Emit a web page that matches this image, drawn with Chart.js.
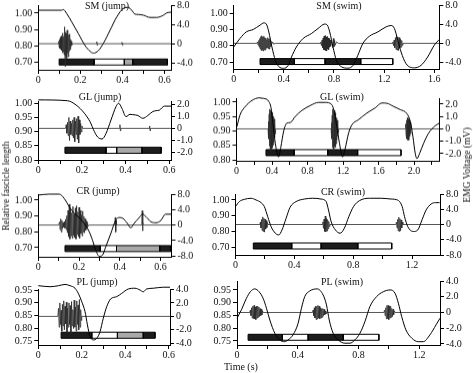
<!DOCTYPE html>
<html>
<head>
<meta charset="utf-8">
<script src="https://cdn.jsdelivr.net/npm/chart.js@4.4.1/dist/chart.umd.min.js"></script>
<style>
  body { margin: 0; background: #fff; width: 473px; height: 373px; position: relative; overflow: hidden;
         font-family: "Liberation Serif", "Times New Roman", serif; color: #111; }
  canvas { position: absolute; }
  .lbl { position: absolute; font-size: 10px; white-space: nowrap; transform: translate(-50%, -50%); }
  .rot { transform: translate(-50%, -50%) rotate(-90deg); font-size: 9.5px; }
</style>
</head>
<body>
<canvas id="c1"></canvas><canvas id="c2"></canvas>
<canvas id="c3"></canvas><canvas id="c4"></canvas>
<canvas id="c5"></canvas><canvas id="c6"></canvas>
<canvas id="c7"></canvas><canvas id="c8"></canvas>

<div class="lbl" style="left:107px;top:5px">SM (jump)</div>
<div class="lbl" style="left:339px;top:5px">SM (swim)</div>
<div class="lbl" style="left:100px;top:96px">GL (jump)</div>
<div class="lbl" style="left:342px;top:96px">GL (swim)</div>
<div class="lbl" style="left:98px;top:190px">CR (jump)</div>
<div class="lbl" style="left:343px;top:191px">CR (swim)</div>
<div class="lbl" style="left:97px;top:281px">PL (jump)</div>
<div class="lbl" style="left:342px;top:281px">PL (swim)</div>
<div class="lbl" style="left:241px;top:366px">Time (s)</div>
<div class="lbl rot" style="left:6px;top:186px">Relative fascicle length</div>
<div class="lbl rot" style="left:467px;top:165px">EMG Voltage (mV)</div>

<script>
// ---- tick values / labels ----
const yT_row1 = [1.0, 0.9, 0.8, 0.7];           const yL_row1 = ['1.00', '0.90', '0.80', '0.70'];
const eT_row1 = [8, 4, 0, -4];                  const eL_row1 = ['8.0', '4.0', '0', '-4.0'];
const yT_row2 = [1.0, 0.95, 0.9, 0.85, 0.8];    const yL_row2 = ['1.00', '0.95', '0.90', '0.85', '0.80'];
const eT_row2 = [2, 1, 0, -1, -2];              const eL_row2 = ['2.0', '1.0', '0', '-1.0', '-2.0'];
const yT_row3 = [1.0, 0.9, 0.8, 0.7];           const yL_row3 = ['1.00', '0.90', '0.80', '0.70'];
const eT_row3 = [8, 4, 0, -4, -8];              const eL_row3 = ['8.0', '4.0', '0', '-4.0', '-8.0'];
const yT_row4 = [0.95, 0.9, 0.85, 0.8, 0.75];   const yL_row4 = ['0.95', '0.90', '0.85', '0.80', '0.75'];
const eT_row4 = [4, 2, 0, -2, -4];              const eL_row4 = ['4.0', '2.0', '0', '-2.0', '-4.0'];

const xT_jump = [0, 0.1, 0.2, 0.3, 0.4, 0.5, 0.6];
const xL_jump = ['0', '', '0.2', '', '0.4', '', '0.6'];
const xT_smSwim = [0, 0.2, 0.4, 0.6, 0.8, 1.0, 1.2, 1.4, 1.6];
const xL_smSwim = ['0', '', '0.4', '', '0.8', '', '1.2', '', '1.6'];
const xT_glSwim = [0, 0.2, 0.4, 0.6, 0.8, 1.0, 1.2, 1.4, 1.6, 1.8, 2.0, 2.2];
const xL_glSwim = ['0', '', '0.4', '', '0.8', '', '1.2', '', '1.6', '', '2.0', ''];
const xT_short = [0, 0.2, 0.4, 0.6, 0.8, 1.0, 1.2];
const xL_short = ['0', '', '0.4', '', '0.8', '', '1.2'];

// ---- fascicle length [time s, relative length] ----
const smJumpLen = [[0,1.018],[0.111,1.018],[0.119,1.022],[0.135,0.998],[0.159,0.947],[0.191,0.875],[0.222,0.804],[0.246,0.769],[0.262,0.757],[0.286,0.773],[0.31,0.818],[0.341,0.896],[0.373,0.977],[0.405,1.029],[0.428,1.035],[0.444,1.018],[0.46,0.994],[0.476,0.992],[0.5,0.988],[0.531,0.974],[0.563,0.974],[0.595,0.988],[0.611,1.002],[0.631,1.006]];
const smSwimLen = [[0,0.793],[0.05,0.845],[0.1,0.885],[0.156,0.9],[0.21,0.926],[0.24,0.94],[0.26,0.933],[0.28,0.885],[0.305,0.793],[0.332,0.712],[0.358,0.675],[0.398,0.663],[0.435,0.681],[0.461,0.732],[0.5,0.793],[0.554,0.845],[0.62,0.875],[0.673,0.906],[0.726,0.933],[0.747,0.926],[0.766,0.885],[0.792,0.793],[0.819,0.712],[0.858,0.673],[0.912,0.664],[0.952,0.681],[0.99,0.742],[1.03,0.814],[1.083,0.859],[1.15,0.885],[1.216,0.916],[1.256,0.924],[1.282,0.906],[1.309,0.834],[1.335,0.763],[1.375,0.691],[1.441,0.666],[1.494,0.681],[1.547,0.732],[1.6,0.804],[1.64,0.839]];
const glJumpLen = [[0,1.012],[0.134,1.009],[0.173,0.994],[0.211,0.965],[0.237,0.935],[0.257,0.9],[0.272,0.881],[0.292,0.874],[0.31,0.893],[0.333,0.941],[0.356,0.988],[0.368,1.0],[0.383,0.982],[0.402,0.953],[0.42,0.961],[0.433,0.96],[0.456,0.957],[0.479,0.947],[0.502,0.957],[0.525,0.971],[0.54,0.974],[0.555,0.976],[0.578,0.99],[0.608,0.99]];
const glSwimLen = [[0.005,0.915],[0.04,0.956],[0.1,0.985],[0.175,1.006],[0.25,1.015],[0.306,1.013],[0.362,1.003],[0.389,0.98],[0.41,0.927],[0.437,0.857],[0.474,0.81],[0.5,0.845],[0.53,0.898],[0.567,0.927],[0.605,0.929],[0.661,0.95],[0.736,0.971],[0.83,0.988],[0.924,0.999],[0.999,0.999],[1.074,0.991],[1.104,0.962],[1.13,0.915],[1.16,0.857],[1.194,0.81],[1.224,0.839],[1.262,0.892],[1.299,0.921],[1.374,0.939],[1.468,0.962],[1.562,0.98],[1.637,0.997],[1.694,0.996],[1.769,0.985],[1.844,0.974],[1.919,0.96],[1.957,0.933],[1.987,0.88],[2.013,0.822],[2.032,0.804],[2.062,0.822],[2.107,0.857],[2.163,0.892],[2.238,0.918],[2.284,0.927]];
const crJumpLen = [[0,1.032],[0.054,1.038],[0.103,1.038],[0.127,1.011],[0.152,0.958],[0.176,0.916],[0.2,0.89],[0.225,0.852],[0.25,0.8],[0.266,0.747],[0.282,0.684],[0.299,0.645],[0.315,0.652],[0.331,0.704],[0.356,0.789],[0.38,0.873],[0.397,0.89],[0.416,0.884],[0.438,0.852],[0.454,0.825],[0.47,0.852],[0.492,0.884],[0.512,0.911],[0.529,0.895],[0.553,0.863],[0.578,0.857],[0.603,0.873],[0.624,0.911],[0.652,0.911]];
const crSwimLen = [[0,0.958],[0.026,0.99],[0.06,1.004],[0.106,1.011],[0.14,1.0],[0.174,0.983],[0.196,0.958],[0.219,0.894],[0.242,0.831],[0.271,0.789],[0.294,0.778],[0.316,0.81],[0.344,0.884],[0.371,0.954],[0.412,0.99],[0.468,1.006],[0.525,1.011],[0.582,1.006],[0.616,0.99],[0.632,0.937],[0.65,0.863],[0.679,0.81],[0.711,0.789],[0.74,0.821],[0.77,0.894],[0.802,0.958],[0.843,0.996],[0.911,1.011],[0.99,1.011],[1.058,1.006],[1.103,0.999],[1.133,0.958],[1.149,0.894],[1.171,0.831],[1.21,0.8],[1.239,0.81],[1.269,0.877],[1.296,0.937],[1.33,0.975],[1.36,0.983],[1.387,0.983]];
const plJumpLen = [[0,0.967],[0.054,0.963],[0.093,0.967],[0.123,0.972],[0.146,0.967],[0.169,0.957],[0.184,0.937],[0.2,0.904],[0.215,0.865],[0.226,0.813],[0.238,0.767],[0.256,0.754],[0.269,0.76],[0.284,0.786],[0.299,0.839],[0.315,0.885],[0.333,0.915],[0.361,0.924],[0.384,0.937],[0.414,0.954],[0.445,0.957],[0.468,0.95],[0.483,0.943],[0.498,0.954],[0.529,0.957],[0.575,0.961],[0.606,0.961]];
const plSwimLen = [[0,0.839],[0.029,0.872],[0.062,0.917],[0.088,0.943],[0.117,0.954],[0.145,0.943],[0.172,0.917],[0.194,0.878],[0.216,0.832],[0.249,0.78],[0.281,0.754],[0.314,0.747],[0.336,0.754],[0.369,0.774],[0.402,0.819],[0.424,0.878],[0.446,0.924],[0.479,0.946],[0.528,0.954],[0.567,0.93],[0.589,0.891],[0.607,0.832],[0.633,0.78],[0.666,0.754],[0.71,0.741],[0.743,0.741],[0.776,0.754],[0.809,0.78],[0.842,0.826],[0.875,0.885],[0.919,0.924],[0.963,0.943],[1.007,0.95],[1.04,0.937],[1.062,0.898],[1.084,0.845],[1.112,0.793],[1.15,0.761],[1.193,0.747],[1.226,0.747],[1.27,0.774],[1.31,0.813],[1.336,0.839]];

// ---- EMG traces [time s, mV] ----
const smJumpEmg = [[0,0],[0.094,0],[0.097,0.5],[0.099,-0.6],[0.101,0.9],[0.103,-1.0],[0.105,1.3],[0.107,-1.1],[0.109,1.6],[0.111,-1.4],[0.113,1.2],[0.115,-1.9],[0.117,2.2],[0.119,-1.7],[0.121,1.5],[0.123,-2.3],[0.125,3.5],[0.127,-4.7],[0.129,2.4],[0.131,-2.6],[0.133,2.1],[0.135,-3.0],[0.137,2.8],[0.139,-2.0],[0.141,2.5],[0.143,-2.7],[0.145,1.8],[0.147,-1.5],[0.149,2.0],[0.151,-1.2],[0.153,0.9],[0.155,-0.7],[0.157,0.5],[0.159,-0.3],[0.161,0],[0.276,0],[0.278,0.4],[0.28,-0.3],[0.282,0],[0.396,0],[0.398,0.3],[0.4,-0.3],[0.402,0],[0.631,0]];
const smSwimEmg = [[0,0],[0.185,0],[0.19,0.3],[0.195,-0.4],[0.2,0.6],[0.204,-0.8],[0.208,1.0],[0.212,-1.2],[0.216,1.4],[0.22,-1.5],[0.224,1.6],[0.228,-1.4],[0.232,1.3],[0.236,-1.6],[0.24,1.5],[0.244,-1.3],[0.248,1.2],[0.252,-1.4],[0.256,1.1],[0.26,-1.0],[0.264,0.8],[0.268,-0.9],[0.272,1.2],[0.276,-1.1],[0.28,0.9],[0.284,-1.2],[0.288,1.0],[0.292,-0.7],[0.296,0.5],[0.3,-0.4],[0.31,0.3],[0.32,-0.2],[0.33,0],
  [0.69,0],[0.695,0.3],[0.7,-0.5],[0.705,0.7],[0.709,-0.9],[0.713,1.1],[0.717,-1.3],[0.721,1.5],[0.725,-1.4],[0.729,1.6],[0.733,-1.5],[0.737,1.3],[0.741,-1.6],[0.745,1.4],[0.749,-1.2],[0.753,1.1],[0.757,-1.3],[0.761,1.0],[0.765,-0.8],[0.769,0.7],[0.773,-0.6],[0.78,0.4],[0.79,-0.9],[0.795,1.0],[0.8,-0.7],[0.805,0.6],[0.81,-0.4],[0.82,0.3],[0.835,0],
  [1.265,0],[1.27,0.3],[1.275,-0.5],[1.28,0.7],[1.285,-0.9],[1.29,1.2],[1.295,-1.3],[1.3,1.5],[1.305,-1.4],[1.31,1.3],[1.315,-1.5],[1.32,1.2],[1.325,-1.0],[1.33,0.9],[1.335,-0.8],[1.34,0.6],[1.345,-0.4],[1.35,0],[1.64,0]];
const glJumpEmg = [[0,0],[0.125,0],[0.128,0.3],[0.131,-0.4],[0.134,0.5],[0.137,-0.6],[0.14,0.9],[0.143,-1.0],[0.146,0.6],[0.149,-0.5],[0.152,0.4],[0.155,-0.6],[0.158,0.7],[0.161,-0.8],[0.164,0.9],[0.167,-1.1],[0.17,0.6],[0.173,-0.5],[0.176,0.8],[0.179,-0.9],[0.182,1.0],[0.185,-1.2],[0.188,0.7],[0.191,-0.5],[0.194,0.4],[0.197,-0.3],[0.2,0.2],[0.203,0],[0.372,0],[0.374,0.3],[0.376,-0.2],[0.378,0],[0.508,0],[0.51,0.2],[0.512,-0.2],[0.514,0],[0.608,0]];
const glSwimEmg = [[0,0],[0.355,0],[0.36,0.6],[0.364,-0.8],[0.368,1.2],[0.372,-1.4],[0.376,1.6],[0.38,-1.8],[0.384,1.5],[0.388,-1.7],[0.392,1.4],[0.396,-1.6],[0.4,1.3],[0.404,-1.5],[0.408,1.2],[0.412,-1.3],[0.416,1.0],[0.42,-1.1],[0.424,0.8],[0.428,-0.7],[0.432,0.5],[0.436,-0.4],[0.44,0],
  [1.065,0],[1.07,0.5],[1.074,-0.8],[1.078,1.1],[1.082,-1.5],[1.086,1.6],[1.09,-1.8],[1.094,1.4],[1.098,-1.6],[1.102,1.5],[1.106,-1.4],[1.11,1.3],[1.114,-1.5],[1.118,1.1],[1.122,-1.2],[1.126,0.9],[1.13,-0.9],[1.134,0.7],[1.138,-0.6],[1.142,0.4],[1.146,-0.3],[1.15,0],
  [1.9,0],[1.905,0.4],[1.91,-0.5],[1.915,0.7],[1.92,-0.8],[1.925,0.9],[1.93,-0.9],[1.935,0.8],[1.94,-0.9],[1.945,0.7],[1.95,-0.6],[1.955,0.5],[1.96,-0.4],[1.965,0.3],[1.975,0],[2.284,0]];
const crJumpEmg = [[0,0],[0.1,0],[0.104,0.8],[0.107,-1.2],[0.11,1.6],[0.113,-1.8],[0.116,1.2],[0.119,-0.9],[0.122,0.6],[0.125,-0.5],[0.128,0.9],[0.131,-0.8],[0.134,1.5],[0.137,-1.2],[0.14,2.4],[0.143,-2.0],[0.146,3.8],[0.149,-3.0],[0.152,5.4],[0.155,-3.6],[0.158,4.2],[0.161,-2.8],[0.164,3.2],[0.167,-3.4],[0.17,4.8],[0.173,-2.6],[0.176,2.8],[0.179,-3.2],[0.182,4.4],[0.185,-3.6],[0.188,5.0],[0.191,-2.4],[0.194,3.4],[0.197,-3.0],[0.2,4.6],[0.203,-3.4],[0.206,3.8],[0.209,-2.2],[0.212,2.6],[0.215,-2.8],[0.218,3.6],[0.221,-1.8],[0.224,2.2],[0.227,-2.0],[0.23,1.6],[0.233,-1.4],[0.236,1.0],[0.239,-0.8],[0.242,0.5],[0.245,-0.3],[0.25,0],[0.376,0],[0.378,2.0],[0.38,-1.8],[0.382,1.2],[0.384,0],[0.508,0],[0.51,3.7],[0.512,-1.5],[0.514,0.8],[0.516,0],[0.654,0]];
const crSwimEmg = [[0,0],[0.165,0],[0.169,0.6],[0.173,-0.9],[0.177,1.3],[0.181,-1.6],[0.185,2.0],[0.189,-1.8],[0.193,1.6],[0.197,-2.0],[0.201,1.4],[0.205,-1.2],[0.209,1.0],[0.213,-0.8],[0.217,0.5],[0.221,0],
  [0.59,0],[0.594,0.7],[0.598,-1.0],[0.602,1.4],[0.606,-1.8],[0.61,2.2],[0.614,-1.9],[0.618,1.6],[0.622,-1.7],[0.626,1.3],[0.63,-1.1],[0.634,0.8],[0.638,-0.5],[0.642,0],
  [1.09,0],[1.094,0.6],[1.098,-0.9],[1.102,1.3],[1.106,-1.7],[1.11,1.9],[1.114,-1.8],[1.118,1.5],[1.122,-1.6],[1.126,1.2],[1.13,-0.9],[1.134,0.6],[1.138,0],[1.39,0]];
const plJumpEmg = [[0,0],[0.09,0],[0.093,1.2],[0.096,-1.6],[0.099,2.0],[0.102,-1.2],[0.105,0.9],[0.108,-2.2],[0.111,1.8],[0.114,-1.4],[0.117,2.3],[0.12,-2.0],[0.123,1.5],[0.126,-1.1],[0.129,2.1],[0.132,-2.4],[0.135,1.2],[0.138,-1.6],[0.141,2.0],[0.144,-1.2],[0.147,1.6],[0.15,-2.5],[0.153,2.2],[0.156,-1.4],[0.159,1.0],[0.162,-1.8],[0.165,2.4],[0.168,-1.6],[0.171,1.4],[0.174,-2.2],[0.177,2.3],[0.18,-1.2],[0.183,1.7],[0.186,-2.0],[0.189,2.5],[0.192,-1.6],[0.195,1.0],[0.198,-0.6],[0.2,0],[0.606,0]];
const plSwimEmg = [[0,0],[0.084,0],[0.088,0.3],[0.092,-0.4],[0.096,0.6],[0.1,-0.7],[0.104,0.8],[0.108,-0.8],[0.112,0.9],[0.116,-0.8],[0.12,0.7],[0.124,-0.9],[0.128,0.8],[0.132,-0.7],[0.136,0.8],[0.14,-0.6],[0.144,0.7],[0.148,-0.5],[0.152,0.5],[0.156,-0.4],[0.16,0.4],[0.164,-0.3],[0.168,0.2],[0.172,0],
  [0.497,0],[0.501,0.3],[0.505,-0.4],[0.509,0.6],[0.513,-0.7],[0.517,0.8],[0.521,-0.9],[0.525,0.8],[0.529,-0.8],[0.533,0.9],[0.537,-0.7],[0.541,0.8],[0.545,-0.8],[0.549,0.6],[0.553,-0.7],[0.557,0.5],[0.561,-0.6],[0.565,0.5],[0.569,-0.4],[0.573,0.4],[0.577,-0.3],[0.581,0.2],[0.585,-0.2],[0.589,0],
  [0.967,0],[0.971,0.3],[0.975,-0.4],[0.979,0.6],[0.983,-0.8],[0.987,0.9],[0.991,-0.8],[0.995,0.9],[0.999,-0.9],[1.003,0.8],[1.007,-0.7],[1.011,0.8],[1.015,-0.6],[1.019,0.5],[1.023,-0.5],[1.027,0.4],[1.031,-0.3],[1.035,0.2],[1.04,0],[1.336,0]];

// ---- activity phases: boundaries (s) and phase kind ----
const smJumpEdges = [0.099, 0.265, 0.409, 0.449, 0.614]; const smJumpKinds = ['k', 'w', 'g', 'k'];
const smSwimEdges = [0.21, 0.484, 0.729, 1.013, 1.269];  const smSwimKinds = ['k', 'w', 'k', 'w'];
const glJumpEdges = [0.122, 0.31, 0.359, 0.475, 0.563];  const glJumpKinds = ['k', 'w', 'g', 'k'];
const glSwimEdges = [0.332, 0.648, 1.027, 1.364, 1.853]; const glSwimKinds = ['k', 'w', 'k', 'w'];
const crJumpEdges = [0.131, 0.304, 0.384, 0.596, 0.65];  const crJumpKinds = ['k', 'w', 'g', 'k'];
const crSwimEdges = [0.121, 0.382, 0.582, 0.831, 1.062]; const crSwimKinds = ['k', 'w', 'k', 'w'];
const plJumpEdges = [0.105, 0.246, 0.364, 0.483, 0.537]; const plJumpKinds = ['k', 'w', 'g', 'k'];
const plSwimEdges = [0.073, 0.299, 0.468, 0.699, 0.934]; const plSwimKinds = ['k', 'w', 'k', 'w'];

const PHASE_FILL = { k: '#1d1d1d', w: '#ffffff', g: '#a9a9a9' };

Chart.defaults.font.family = '"Liberation Serif", "Times New Roman", serif';
Chart.defaults.font.size = 10;
Chart.defaults.color = '#111';

// layout of each panel (page pixels) + axis ranges
const panels = [
  { id: 'c1', x0: 0,   x1: 200, L: 38.3,  T: 5,   R: 171,   B: 69.5, xmax: 0.631, ymin: 0.656, ymax: 1.049, emin: -5.41, emax: 8,    bar: -3.8,  bh: 0.62,
    len: smJumpLen, emg: smJumpEmg, edges: smJumpEdges, kinds: smJumpKinds, xt: xT_jump, xl: xL_jump, yt: yT_row1, yl: yL_row1, et: eT_row1, el: eL_row1 },
  { id: 'c2', x0: 190, x1: 473, L: 233.7, T: 5,   R: 439.3, B: 69,   xmax: 1.64,  ymin: 0.659, ymax: 1.049, emin: -5.35, emax: 8,    bar: -3.8,  bh: 0.62,
    len: smSwimLen, emg: smSwimEmg, edges: smSwimEdges, kinds: smSwimKinds, xt: xT_smSwim, xl: xL_smSwim, yt: yT_row1, yl: yL_row1, et: eT_row1, el: eL_row1 },
  { id: 'c3', x0: 0,   x1: 200, L: 38.3,  T: 101, R: 171,   B: 160,  xmax: 0.608, ymin: 0.8,   ymax: 1.008, emin: -2.6,  emax: 2.25, bar: -1.8,  bh: 0.25,
    len: glJumpLen, emg: glJumpEmg, edges: glJumpEdges, kinds: glJumpKinds, xt: xT_jump, xl: xL_jump, yt: yT_row2, yl: yL_row2, et: eT_row2, el: eL_row2 },
  { id: 'c4', x0: 190, x1: 473, L: 236.5, T: 98,  R: 439.3, B: 160.5, xmax: 2.284, ymin: 0.7965, ymax: 1.0139, emin: -2.58, emax: 2.49, bar: -1.92, bh: 0.245,
    len: glSwimLen, emg: glSwimEmg, edges: glSwimEdges, kinds: glSwimKinds, xt: xT_glSwim, xl: xL_glSwim, yt: yT_row2, yl: yL_row2, et: eT_row2, el: eL_row2 },
  { id: 'c5', x0: 0,   x1: 200, L: 38.3,  T: 194, R: 171.5, B: 256.5, xmax: 0.654, ymin: 0.6417, ymax: 1.038, emin: -8.2, emax: 8,   bar: -6.08, bh: 0.78,
    len: crJumpLen, emg: crJumpEmg, edges: crJumpEdges, kinds: crJumpKinds, xt: xT_jump, xl: xL_jump, yt: yT_row3, yl: yL_row3, et: eT_row3, el: eL_row3 },
  { id: 'c6', x0: 190, x1: 473, L: 235.5, T: 194, R: 440,   B: 255,  xmax: 1.39,  ymin: 0.651, ymax: 1.038, emin: -8,    emax: 8,    bar: -5.64, bh: 0.79,
    len: crSwimLen, emg: crSwimEmg, edges: crSwimEdges, kinds: crSwimKinds, xt: xT_short, xl: xL_short, yt: yT_row3, yl: yL_row3, et: eT_row3, el: eL_row3 },
  { id: 'c7', x0: 0,   x1: 200, L: 38.3,  T: 289, R: 170,   B: 345,  xmax: 0.606, ymin: 0.734, ymax: 0.954, emin: -4.25, emax: 4.07, bar: -2.8,  bh: 0.45,
    len: plJumpLen, emg: plJumpEmg, edges: plJumpEdges, kinds: plJumpKinds, xt: xT_jump, xl: xL_jump, yt: yT_row4, yl: yL_row4, et: eT_row4, el: eL_row4 },
  { id: 'c8', x0: 190, x1: 473, L: 237,   T: 281, R: 440,   B: 345,  xmax: 1.336, ymin: 0.734, ymax: 0.985, emin: -4.13, emax: 4,    bar: -3.15, bh: 0.38,
    len: plSwimLen, emg: plSwimEmg, edges: plSwimEdges, kinds: plSwimKinds, xt: xT_short, xl: xL_short, yt: yT_row4, yl: yL_row4, et: eT_row4, el: eL_row4 }
];

const toPts = arr => arr.map(p => ({ x: p[0], y: p[1] }));

function axisStyle(extra) {
  return Object.assign({
    grid: { drawOnChartArea: false, color: '#000', tickLength: 4, lineWidth: 1 },
    border: { display: true, color: '#000', width: 1 }
  }, extra);
}

function drawPanel(p) {
  const cv = document.getElementById(p.id);
  const top = p.T - 8, h = p.B + 20 - top, w = p.x1 - p.x0;
  cv.width = w; cv.height = h;
  cv.style.left = p.x0 + 'px'; cv.style.top = top + 'px';
  cv.style.width = w + 'px'; cv.style.height = h + 'px';

  const datasets = [
    { data: toPts(p.len), yAxisID: 'y', borderColor: '#000', borderWidth: 1, pointRadius: 0,
      cubicInterpolationMode: 'monotone', clip: false, order: 0 },
    { data: toPts(p.emg), yAxisID: 'y2', borderColor: '#2b2b2b', borderWidth: 0.8, pointRadius: 0,
      tension: 0, order: 1 }
  ];
  // activity bar: one outlined, filled box per phase
  for (let i = 0; i < p.kinds.length; i++) {
    const a = p.edges[i], b = p.edges[i + 1], hi = p.bar + p.bh, lo = p.bar - p.bh;
    datasets.push({
      data: [{ x: a, y: hi }, { x: b, y: hi }, { x: b, y: lo }, { x: a, y: lo }, { x: a, y: hi }],
      yAxisID: 'y2', borderColor: '#000', borderWidth: 1, backgroundColor: PHASE_FILL[p.kinds[i]],
      fill: 'shape', pointRadius: 0, tension: 0, order: 2
    });
  }

  new Chart(cv, {
    type: 'line',
    data: { datasets },
    options: {
      responsive: false,
      animation: false,
      events: [],
      layout: { padding: { top: 8, left: 0, right: 0, bottom: 0 } },
      plugins: { legend: { display: false }, tooltip: { enabled: false } },
      scales: {
        x: axisStyle({
          type: 'linear', min: 0, max: p.xmax,
          afterBuildTicks: s => { s.ticks = p.xt.map(v => ({ value: v })); },
          ticks: { autoSkip: false, maxRotation: 0, padding: 0, callback: (v, i) => p.xl[i] },
          afterFit: s => { s.height = 20; }
        }),
        y: axisStyle({
          type: 'linear', position: 'left', min: p.ymin, max: p.ymax,
          afterBuildTicks: s => { s.ticks = p.yt.map(v => ({ value: v })); },
          ticks: { autoSkip: false, padding: 2, callback: (v, i) => p.yl[i] },
          afterFit: s => { s.width = p.L - p.x0; }
        }),
        y2: axisStyle({
          type: 'linear', position: 'right', min: p.emin, max: p.emax,
          afterBuildTicks: s => { s.ticks = p.et.map(v => ({ value: v })); },
          ticks: { autoSkip: false, padding: 2, callback: (v, i) => p.el[i] },
          afterFit: s => { s.width = p.x1 - p.R; }
        })
      }
    }
  });
}

panels.forEach(drawPanel);
</script>
</body>
</html>
